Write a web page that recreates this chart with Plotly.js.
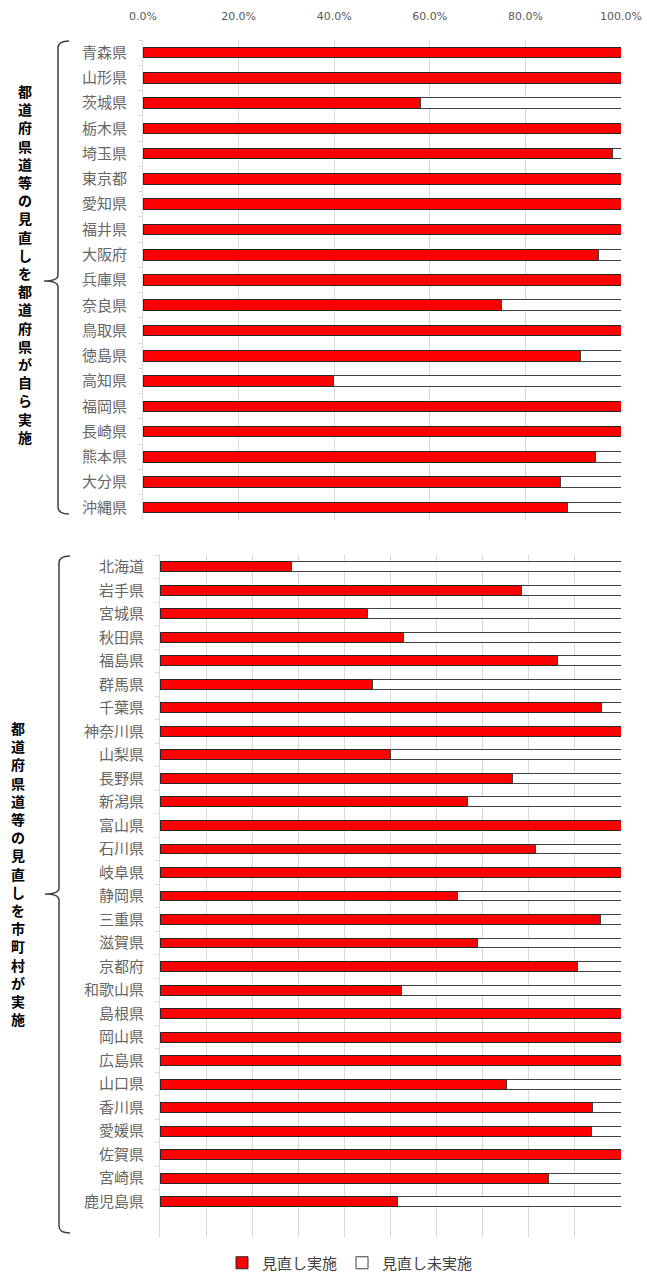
<!DOCTYPE html>
<html>
<head>
<meta charset="utf-8">
<script src="https://cdn.plot.ly/plotly-3.0.1.min.js"></script>
<style>
  html, body { margin: 0; padding: 0; background: #ffffff; }
  #chart { width: 647px; height: 1280px; }
</style>
</head>
<body>
<div id="chart"></div>
<script>
// 都道府県が自ら見直しを実施した道路管理者
const prefCats = ['青森県','山形県','茨城県','栃木県','埼玉県','東京都','愛知県','福井県','大阪府','兵庫県',
  '奈良県','鳥取県','徳島県','高知県','福岡県','長崎県','熊本県','大分県','沖縄県'];
const prefDone = [100,100,58,100,98.2,100,100,100,95.3,100,75,100,91.6,39.8,100,100,94.7,87.4,88.8];
const prefNotDone = [0,0,42,0,1.8,0,0,0,4.7,0,25,0,8.4,60.2,0,0,5.3,12.6,11.2];

// 市町村が見直しを実施した都道府県
const cityCats = ['北海道','岩手県','宮城県','秋田県','福島県','群馬県','千葉県','神奈川県','山梨県','長野県',
  '新潟県','富山県','石川県','岐阜県','静岡県','三重県','滋賀県','京都府','和歌山県','島根県',
  '岡山県','広島県','山口県','香川県','愛媛県','佐賀県','宮崎県','鹿児島県'];
const cityDone = [28.6,78.5,45,52.9,86.3,46.1,95.8,100,50,76.4,66.7,100,81.4,100,64.5,95.6,68.8,90.5,52.3,100,
  100,100,75.1,93.9,93.5,100,84.3,51.6];
const cityNotDone = [71.4,21.5,55,47.1,13.7,53.9,4.2,0,50,23.6,33.3,0,18.6,0,35.5,4.4,31.2,9.5,47.7,0,
  0,0,24.9,6.1,6.5,0,15.7,48.4];

const seriesNames = ['見直し実施', '見直し未実施'];
const groupTitles = ['都道府県道等の見直しを都道府県が自ら実施', '都道府県道等の見直しを市町村が実施'];

const FONT = '"Noto Sans CJK JP", "Noto Sans", sans-serif';
const RED = '#ff0000';
const OUTLINE = '#262626';

// page geometry helpers (plot area spans x 143..621, y 40..1237)
const L = 143, R = 621, T = 40, B = 1237;
const px = x => (x - L) / (R - L);
const py = y => (B - y) / (B - T);

const traces = [
  { type: 'bar', orientation: 'h', y: prefCats, x: prefDone, name: seriesNames[0],
    xaxis: 'x', yaxis: 'y', legendgroup: 'a',
    marker: { color: RED, line: { color: OUTLINE, width: 1 } }, hoverinfo: 'x+y' },
  { type: 'bar', orientation: 'h', y: prefCats, x: prefNotDone, name: seriesNames[1],
    xaxis: 'x', yaxis: 'y', legendgroup: 'b',
    marker: { color: '#ffffff', line: { color: '#404040', width: 1 } }, hoverinfo: 'x+y' },
  { type: 'bar', orientation: 'h', y: cityCats, x: cityDone, name: seriesNames[0],
    xaxis: 'x2', yaxis: 'y2', legendgroup: 'a', showlegend: false,
    marker: { color: RED, line: { color: OUTLINE, width: 1 } }, hoverinfo: 'x+y' },
  { type: 'bar', orientation: 'h', y: cityCats, x: cityNotDone, name: seriesNames[1],
    xaxis: 'x2', yaxis: 'y2', legendgroup: 'b', showlegend: false,
    marker: { color: '#ffffff', line: { color: '#404040', width: 1 } }, hoverinfo: 'x+y' }
];

// curly bracket drawn in paper units
function bracket(top, mid, bottom, xLine, xTip, xHook) {
  const p = (x, y) => px(x).toFixed(5) + ',' + py(y).toFixed(5);
  return 'M ' + p(xHook, top) + ' Q ' + p(xLine, top) + ' ' + p(xLine, top + 7) +
    ' L ' + p(xLine, mid - 6) + ' Q ' + p(xLine, mid) + ' ' + p(xTip, mid) +
    ' Q ' + p(xLine, mid) + ' ' + p(xLine, mid + 6) +
    ' L ' + p(xLine, bottom - 7) + ' Q ' + p(xLine, bottom) + ' ' + p(xHook, bottom);
}

const layout = {
  width: 647, height: 1280,
  margin: { l: L, r: 647 - R, t: T, b: 1280 - B, autoexpand: false },
  paper_bgcolor: '#ffffff', plot_bgcolor: '#ffffff',
  barmode: 'stack', bargap: 0.58,
  showlegend: true,
  font: { family: FONT, color: '#595959' },
  xaxis: {
    domain: [0, 1], range: [0, 100], side: 'top', anchor: 'y',
    dtick: 20, tickformat: '.1f', ticksuffix: '%',
    showgrid: true, gridcolor: '#d9d9d9', gridwidth: 1,
    zeroline: false, showline: false, ticks: '', ticklabelstandoff: 17,
    tickfont: { family: '"DejaVu Sans", sans-serif', size: 11, color: '#595959' },
    fixedrange: true
  },
  yaxis: {
    domain: [py(520), 1], anchor: 'x', type: 'category',
    categoryorder: 'array', categoryarray: prefCats, autorange: 'reversed',
    showline: true, linecolor: '#d9d9d9', linewidth: 1,
    ticks: 'outside', tickson: 'boundaries', ticklen: 4, tickcolor: '#d9d9d9',
    ticklabelstandoff: 12,
    tickfont: { family: FONT, size: 15, color: '#666666' },
    showgrid: false, fixedrange: true
  },
  xaxis2: {
    domain: [px(160), 1], range: [0, 100], anchor: 'y2',
    dtick: 10, showticklabels: false,
    showgrid: true, gridcolor: '#d9d9d9', gridwidth: 1,
    zeroline: false, showline: false, ticks: '', fixedrange: true
  },
  yaxis2: {
    domain: [0, py(555)], anchor: 'x2', type: 'category',
    categoryorder: 'array', categoryarray: cityCats, range: [28.5, -0.5],
    showline: true, linecolor: '#d9d9d9', linewidth: 1,
    ticks: 'outside', tickson: 'boundaries', ticklen: 4, tickcolor: '#d9d9d9',
    ticklabelstandoff: 12,
    tickfont: { family: FONT, size: 15, color: '#666666' },
    showgrid: false, fixedrange: true
  },
  legend: {
    orientation: 'h', x: px(350), xanchor: 'center', y: py(1263), yanchor: 'middle',
    font: { family: FONT, size: 15, color: '#404040' },
    traceorder: 'normal', itemwidth: 30
  },
  shapes: [
    { type: 'path', xref: 'paper', yref: 'paper',
      path: bracket(41, 281, 514, 58, 44, 69),
      line: { color: '#404040', width: 1.5 } },
    { type: 'path', xref: 'paper', yref: 'paper',
      path: bracket(556, 894, 1233, 59, 45, 70),
      line: { color: '#404040', width: 1.5 } }
  ],
  annotations: [
    { xref: 'paper', yref: 'paper', x: px(25), y: py(264), xanchor: 'center', yanchor: 'middle',
      showarrow: false, align: 'center',
      text: groupTitles[0].split('').join('<br>'),
      font: { family: FONT, size: 14, color: '#000000', weight: 'bold' } },
    { xref: 'paper', yref: 'paper', x: px(18), y: py(873), xanchor: 'center', yanchor: 'middle',
      showarrow: false, align: 'center',
      text: groupTitles[1].split('').join('<br>'),
      font: { family: FONT, size: 14, color: '#000000', weight: 'bold' } }
  ]
};

Plotly.newPlot('chart', traces, layout, { displayModeBar: false, staticPlot: true });
</script>
</body>
</html>
